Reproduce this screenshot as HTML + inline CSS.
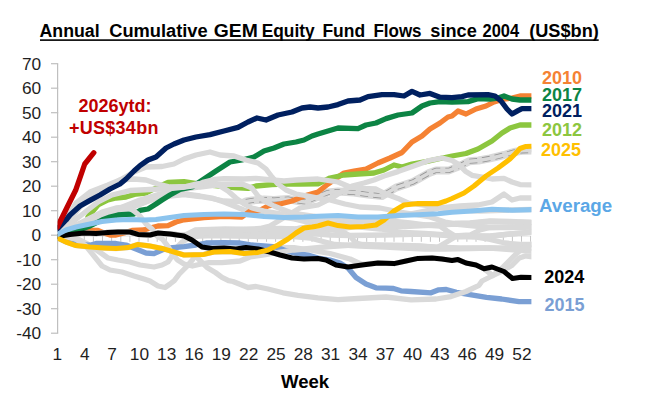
<!DOCTYPE html>
<html><head><meta charset="utf-8"><title>Annual Cumulative GEM Equity Fund Flows</title>
<style>
html,body{margin:0;padding:0;background:#fff;}
body{width:670px;height:406px;overflow:hidden;position:relative;font-family:"Liberation Sans",Arial,sans-serif;}
svg{position:absolute;left:0;top:0;}
text{font-family:"Liberation Sans",Arial,sans-serif;}
.ax{font-size:17.3px;fill:#1f1f1f;}
.b{font-weight:bold;font-size:18px;}
</style></head><body>
<svg width="670" height="406" viewBox="0 0 670 406">
<defs><clipPath id="pc"><rect x="57.6" y="50" width="473.8" height="290"/></clipPath></defs>

<g stroke="#bfbfbf" stroke-width="1.2" fill="none">
<line x1="57.6" y1="63.7" x2="57.6" y2="333.2"/>
<line x1="51" y1="333.2" x2="58.2" y2="333.2"/>
<line x1="51" y1="308.7" x2="58.2" y2="308.7"/>
<line x1="51" y1="284.2" x2="58.2" y2="284.2"/>
<line x1="51" y1="259.7" x2="58.2" y2="259.7"/>
<line x1="51" y1="235.2" x2="58.2" y2="235.2"/>
<line x1="51" y1="210.7" x2="58.2" y2="210.7"/>
<line x1="51" y1="186.2" x2="58.2" y2="186.2"/>
<line x1="51" y1="161.7" x2="58.2" y2="161.7"/>
<line x1="51" y1="137.2" x2="58.2" y2="137.2"/>
<line x1="51" y1="112.7" x2="58.2" y2="112.7"/>
<line x1="51" y1="88.2" x2="58.2" y2="88.2"/>
<line x1="51" y1="63.7" x2="58.2" y2="63.7"/>
</g>
<g clip-path="url(#pc)" fill="none" stroke-linejoin="round" stroke-linecap="round">
<g stroke="#c4c4c4" stroke-width="1" fill="none" stroke-linecap="butt">
<line x1="57.6" y1="236" x2="531.4" y2="236" stroke="#dedede"/>
<line x1="66.1" y1="236" x2="66.1" y2="241.8"/>
<line x1="75.2" y1="236" x2="75.2" y2="241.8"/>
<line x1="84.3" y1="236" x2="84.3" y2="241.8"/>
<line x1="93.4" y1="236" x2="93.4" y2="241.8"/>
<line x1="102.5" y1="236" x2="102.5" y2="241.8"/>
<line x1="111.6" y1="236" x2="111.6" y2="241.8"/>
<line x1="120.8" y1="236" x2="120.8" y2="241.8"/>
<line x1="129.9" y1="236" x2="129.9" y2="241.8"/>
<line x1="139.0" y1="236" x2="139.0" y2="241.8"/>
<line x1="148.1" y1="236" x2="148.1" y2="241.8"/>
<line x1="157.2" y1="236" x2="157.2" y2="241.8"/>
<line x1="166.3" y1="236" x2="166.3" y2="241.8"/>
<line x1="175.4" y1="236" x2="175.4" y2="241.8"/>
<line x1="184.5" y1="236" x2="184.5" y2="241.8"/>
<line x1="193.6" y1="236" x2="193.6" y2="241.8"/>
<line x1="202.7" y1="236" x2="202.7" y2="241.8"/>
<line x1="211.8" y1="236" x2="211.8" y2="241.8"/>
<line x1="220.9" y1="236" x2="220.9" y2="241.8"/>
<line x1="230.1" y1="236" x2="230.1" y2="241.8"/>
<line x1="239.2" y1="236" x2="239.2" y2="241.8"/>
<line x1="248.3" y1="236" x2="248.3" y2="241.8"/>
<line x1="257.4" y1="236" x2="257.4" y2="241.8"/>
<line x1="266.5" y1="236" x2="266.5" y2="241.8"/>
<line x1="275.6" y1="236" x2="275.6" y2="241.8"/>
<line x1="284.7" y1="236" x2="284.7" y2="241.8"/>
<line x1="293.8" y1="236" x2="293.8" y2="241.8"/>
<line x1="302.9" y1="236" x2="302.9" y2="241.8"/>
<line x1="312.0" y1="236" x2="312.0" y2="241.8"/>
<line x1="321.1" y1="236" x2="321.1" y2="241.8"/>
<line x1="330.2" y1="236" x2="330.2" y2="241.8"/>
<line x1="339.3" y1="236" x2="339.3" y2="241.8"/>
<line x1="348.5" y1="236" x2="348.5" y2="241.8"/>
<line x1="357.6" y1="236" x2="357.6" y2="241.8"/>
<line x1="366.7" y1="236" x2="366.7" y2="241.8"/>
<line x1="375.8" y1="236" x2="375.8" y2="241.8"/>
<line x1="384.9" y1="236" x2="384.9" y2="241.8"/>
<line x1="394.0" y1="236" x2="394.0" y2="241.8"/>
<line x1="403.1" y1="236" x2="403.1" y2="241.8"/>
<line x1="412.2" y1="236" x2="412.2" y2="241.8"/>
<line x1="421.3" y1="236" x2="421.3" y2="241.8"/>
<line x1="430.4" y1="236" x2="430.4" y2="241.8"/>
<line x1="439.5" y1="236" x2="439.5" y2="241.8"/>
<line x1="448.6" y1="236" x2="448.6" y2="241.8"/>
<line x1="457.8" y1="236" x2="457.8" y2="241.8"/>
<line x1="466.9" y1="236" x2="466.9" y2="241.8"/>
<line x1="476.0" y1="236" x2="476.0" y2="241.8"/>
<line x1="485.1" y1="236" x2="485.1" y2="241.8"/>
<line x1="494.2" y1="236" x2="494.2" y2="241.8"/>
<line x1="503.3" y1="236" x2="503.3" y2="241.8"/>
<line x1="512.4" y1="236" x2="512.4" y2="241.8"/>
<line x1="521.5" y1="236" x2="521.5" y2="241.8"/>
<line x1="530.6" y1="236" x2="530.6" y2="241.8"/>
</g>
<polyline points="57.4,234 72,228 90,222 110,216 130,208 150,200.5 170,196 184,194.5 200,196.5 212,198.5 224,201 235,201.5 246,201.5" stroke="#d9d9d9" stroke-width="5.3" />
<polyline points="57.4,236.4 70,234.4 84,233 96,233.6 108,232.4 118,232 130,232 138,234.4 150,235 158,233.5 170,234 184,235.5 195,233 230,232 260,232.5 294,232 330,235 350,235.5 385,235 404,234.5 425,234 440,235 455,236 470,235 480,230 490,227.5 510,227 533,227" stroke="#d9d9d9" stroke-width="5.3" />
<polyline points="57.4,236.4 70,234.4 84,233 96,233.6 108,232.4 118,232 130,232 138,234.4 150,235 158,233.5 170,234 184,235.5 195,230 225,229 260,229.5 294,229 320,225 350,222 380,226 404,226.5 425,225.5 440,225 455,224 470,225.5 490,227.5 510,227.5 533,227" stroke="#d9d9d9" stroke-width="5.3" />
<polyline points="57.4,236.4 70,234.4 84,233 96,233.6 108,232.4 118,232 130,232 138,234.4 150,235 158,233.5 170,234 184,235.5 195,234 230,235 260,235 294,234 330,230 360,226 390,221 410,223 425,225 440,226 447,231 455,236 460,236.5 475,237 490,239.5 505,243 520,244.5 533,244.5" stroke="#d9d9d9" stroke-width="5.3" />
<polyline points="57.4,238 66,242 76,245.6 90,247 104,248 116,248.6 128,247.6 138,244.4 150,246 162,248.4 174,252 184,255 204,254.4 214,252 230,251.6 244,253.6 258,252.4 268,250 280,247.5 294,247.7 310,250 330,253.5 350,259 362,264.5 378,263 394,263.6 406,261 418,258.4 432,258 442,259 452,260.5 458,259.6 466,263 476,265 484,268.7 492.7,275.6 502,271 511.4,265.8 519.3,257.9 525.2,255.9 533,256.9" stroke="#d9d9d9" stroke-width="5.3" />
<polyline points="57.4,236.4 70,234.4 84,233 96,233.6 108,232.4 118,232 130,232 138,234.4 150,235 158,233.5 170,234 184,235.5 195,232 220,230 250,229.5 280,228.5 294,229 320,225 350,222 380,219 410,214 440,208 460,206 478,205 492,202 504,194 512,200 520,198 533,198" stroke="#d9d9d9" stroke-width="5.3" />
<polyline points="57.4,236 70,237 78,239 86,243 98,251 108,258 118,260 130,262 140,265 154,267 162,265 168,262 172,256 175,250 178,246 182,242 190,238 200,236 215,235.5 235,236 260,236.5 294,236.5 310,238 325,242 335,244.5 360,246 385,247 404,248 425,249 445,249 470,248.5 490,248 510,249.5 533,251.5" stroke="#d9d9d9" stroke-width="5.3" />
<polyline points="57.4,234 72,228 90,222 110,216 130,208 150,200 170,195.5 184,194 200,196 212,198 224,202 234,206 244,210 254,213 270,215.5 294,219 315,224 330,229 345,233 350,236 356,243 365,245.5 380,246 404,246 425,246.5 445,247.5 460,248 490,248 510,248 533,248" stroke="#d9d9d9" stroke-width="5.3" />
<polyline points="246,201.5 252,200.5 264,199.5 274,200 288,199 298,201 305.6,202 318,196.5 328,192.5 338,191.5 354,192.5 368,194.5 382,196 396,187.6 413,182 429,173 436,170.4 449,170.4 459,166.3 469,161.3 478.5,160.5 490,158.4 504,155 514,152 522,150.8 533,150.5" stroke="#d9d9d9" stroke-width="8.0" />
<polyline points="246,201.5 252,200.5 264,199.5 274,200 288,199 298,201 305.6,202 318,196.5 328,192.5 338,191.5 354,192.5 368,194.5 382,196 396,187.6 413,182 429,173 436,170.4 449,170.4 459,166.3 469,161.3 478.5,160.5 490,158.4 504,155 514,152 522,150.8 533,150.5" stroke="#969696" stroke-width="5.2" stroke-dasharray="8 5" stroke-linecap="butt"/>
<polyline points="246,201.5 252,200.5 264,199.5 274,200 288,199 298,201 305.6,202 318,196.5 328,192.5 338,191.5 354,192.5 368,194.5 382,196 396,187.6 413,182 429,173 436,170.4 449,170.4 459,166.3 469,161.3 478.5,160.5 490,158.4 504,155 514,152 522,150.8 533,150.5" stroke="#d9d9d9" stroke-width="3.6" />
<polyline points="57.4,235 70,233 88,230.5 98,230.5 104,233 110,235 116,235 124,233 132,230.5 144,230 150,228 158,226 168,225.6 176,222 184,219.8 204,217.6 224,216.3 242,217 250,211 260,210.4 268,206 280,204 292,201 304,196 318,192 328,184 344,173 354,171 366,169 378,163 390,158 402,152.5 412,142 422,136 430,129 440,123 448,117 452,116 458,111 466,114 476,109 486,106 494,102 502,99.4 512,98 520,96 533,96" stroke="#f58233" stroke-width="5.3" />
<polyline points="88,217 90,214.5 98,205 108,200 116,198 126,197 136,194 146,193 156,188 168,182.4 184,181.6 200,184 220,186 234,187.6 248,188.4 256,186 272,184.6 284,184 300,184 318,183.8 330,178 344,175 358,174 374,173 384,170 394,165 402,167 412,164 426,161.6 438,159 452,156 466,153.5 478,149 492,141 502,133 510,128 520,125 533,125" stroke="#8cc63f" stroke-width="5.3" />
<polyline points="57.4,234 80,226 100,217 120,208 140,200 160,194 180,190 200,187 220,184.5 242,184 252,188 258,196 266,202 274,206 284,210 292,213 320,217 350,219 380,222 404,224.5 425,225 440,225 455,223.5 470,223.5 490,221.5 510,222 533,222.5" stroke="#d9d9d9" stroke-width="5.3" />
<polyline points="57.4,237.5 66,241.5 76,244.5 90,245.2 96,243.5 116,243.5 126,245 136,249 146,253 154,253.6 162,250 170,248 184,246.6 196,245 206,243 224,242.6 240,243 252,245 264,246 276,247 284,250 294,253 308,255 318,258 330,260 340,263 348,268 356,277.5 366,284 376,287.8 386,288.2 393.5,288.5 401,290.8 411,291.5 431,292.8 438.8,289.8 446.3,289.5 456.4,292.3 471.4,294.8 486.5,297.3 501.6,299 519,301.6 533,301.6" stroke="#7a9fd4" stroke-width="5.3" />
<polyline points="57.4,236 68,237.5 76,239 86,246 94,256 102,266 110,270 122,272 134,276 144,279 150,281 158,286 165,287.5 170,284 174.3,280.7 179.3,274 185.8,267.5 192.4,260 195,255.5 200.6,261 207,267.5 215.4,272.5 222,277.4 228.5,280.7 233,281.5 248,287.5 256,286.5 268,289 283,292.8 298,295.3 318,297.8 338,299.6 358,298.5 386,297 411,299.8 436,299 451,296.6 466,291.5 479,285.3 482,281 492,276 502,268 510,260 516,254 522,249 533,244" stroke="#d9d9d9" stroke-width="5.3" />
<polyline points="57.4,236.4 70,234.4 84,233 96,233.6 108,232.4 118,232 130,232 138,234.4 150,235 158,233.5 170,234 184,235.5 200,233 220,232 240,230 260,228.5 270,226 280,220 290,214 300,208 318,205 332,198 344,190 352,186 364,183 374,180 384,176 398,171.6 413,166.3 429,160.5 442,158 452,160.5 459,164.6 465.4,171.2 472,175.3 482,177 492,179 504,178.4 512,182 520,184.6 533,185" stroke="#d9d9d9" stroke-width="5.3" />
<polyline points="57.4,234 66,232.5 76,231 90,226 102,220 110,217 118,215 126,214.4 134,214 140,210.4 148,209 156,204 162,200 170,195 180,189.5 192,187 204,179 216,171 230,162 242,160 254,157 264,151 274,148 284,144 296,142 304,140 312,136 318,134 328,131 338,128 358,128.6 366,125 376,123 386,118.6 398,115 412,113 422,106 430,103 440,101.6 452,102.2 468,101.6 478,98.6 490,99 498,98 504,96 512,99 520,100 533,100" stroke="#0c8444" stroke-width="5.3" />
<polyline points="57.4,233 68,222 80,207 92,196 106,188 120,180 134,179 146,180 158,184 170,187 184,187 196,184 210,183 220,186 228,191 236,198 244,204 252,208 264,211 276,213 294,216 320,221 350,226 380,229 404,232.5 425,233.5 440,234.5 455,236 470,236 490,236 510,234 533,232" stroke="#d9d9d9" stroke-width="5.3" />
<polyline points="57.4,233 70,224 84,213 98,202 112,195 130,190.5 150,189.5 170,188.5 184,187 196,185.5 204,182 214,179.5 224,178.6 244,179 256,178.4 272,180 284,181 296,180 318,179 338,182 350,187 362,188.4 376,189 386,194 398,198.4 408,203 422,205 437,207 452,210 480,211 510,210 533,209.5" stroke="#d9d9d9" stroke-width="5.3" />
<polyline points="57.4,233 64,224 70,213 76,203 90,192 108,185 120,180 134,172 146,167 162,166.5 174,164 184,159 196,155 210,152 220,155 234,156 246,160 258,163 266,169 272,177 278,184 286,190 296,194 308,196 318,198 330,200 345,204 360,207 380,208 400,212 415,214.5 430,217 445,222 455,223.5 470,223 490,221 510,221.5 533,222.5" stroke="#d9d9d9" stroke-width="5.3" />
<polyline points="57.4,233 66,221 76,206 90,195 108,187.5 120,182" stroke="#d9d9d9" stroke-width="5.3" />
<polyline points="57.4,234 70,228 82,222 90,218 102,212 116,208 128,207 134,211 140,216 146,224 152,229 157,236 162.8,239.6 167.8,246.2 172.7,254.4 177.6,260 184,264 192.4,266 199,264.5 208.8,262.6 222,262.6 240,261 250,257 264,255 280,252 294,250 330,246.5 360,244.5 380,245 404,245.5 420,246 437,247.7 445,243 455,237 470,236 490,236.5 510,234 533,232" stroke="#d9d9d9" stroke-width="5.3" />
<polyline points="57.4,229 66,220 70,215 80,206 90,200.4 100,195 110,189 120,184 126,179 134,171 140,165.6 148,160 156,157 166,148 174,144 184,140 196,137 210,134.6 224,131 238,127.4 248,122 257,118 266,120 278,115 292,112 302,108 310,107 318,108 328,107 338,104.6 348,101 360,100 368,96.6 382,94.6 394,94.6 404,96 412,91.4 420,95 430,93.4 440,97.2 452,97.6 462,96.6 468,95 488,94.6 495,96 501,101 507,109 512,114 518,110.6 522,108.6 533,108.6" stroke="#002060" stroke-width="5.3" />
<polyline points="57.4,236.4 70,234.4 84,233 96,233.6 108,232.4 118,232 130,232 138,234.4 150,235 158,233 170,234 184,236 192,240 202,247 212,248.6 224,248 236,249 246,247.6 258,249 270,252 280,255 292,258 304,259 318,258.5 326,260 336,265 348,267 362,265 378,263 394,263.6 406,261 418,258.4 432,258 442,259 452,260.5 458,259.6 466,263 476,265 484,268.7 492,267 504,271.5 512.5,278.5 521,277.3 533,277.6" stroke="#000000" stroke-width="5.05" />
<polyline points="57.4,238 66,242 76,245.6 90,247 104,248 116,248.6 128,247.6 138,244.4 150,246 162,248.4 174,252 184,255 204,254.4 214,252 230,251.6 244,253.6 258,252.4 268,250 278,245 288,239 296,233 304,228 312,227 318,226 328,223 338,225.6 350,227 364,226.6 376,225 384,220 394,211 404,205 418,203.6 438,203.6 446,201 452,198.5 464,193 474,186 486,176 498,168 510,159 515,154 520,148.5 526,146.4 533,146.2" stroke="#ffc000" stroke-width="5.05" />
<polyline points="57.4,227 66.508,208.5 75.616,190.3 84.724,164 93.832,152.7" stroke="#c00000" stroke-width="5.3" />
<polyline points="57.4,234.6 66,230 76,227 90,224 102,221.6 116,220 130,219.6 144,220 156,219.6 170,217.6 184,215.6 204,214.4 224,214 244,214.4 264,216.4 284,217.6 304,217 318,216.2 338,215.6 358,217 378,217 398,215.5 418,214.7 438,213.7 452,212.2 472,210.9 492,209.2 512,210.2 533,209.6" stroke="#8cc4ee" stroke-width="5.05" />
</g>
<text class="ax" x="41.2" y="339.2" text-anchor="end">-40</text>
<text class="ax" x="41.2" y="314.7" text-anchor="end">-30</text>
<text class="ax" x="41.2" y="290.2" text-anchor="end">-20</text>
<text class="ax" x="41.2" y="265.7" text-anchor="end">-10</text>
<text class="ax" x="41.2" y="241.2" text-anchor="end">0</text>
<text class="ax" x="41.2" y="216.7" text-anchor="end">10</text>
<text class="ax" x="41.2" y="192.2" text-anchor="end">20</text>
<text class="ax" x="41.2" y="167.7" text-anchor="end">30</text>
<text class="ax" x="41.2" y="143.2" text-anchor="end">40</text>
<text class="ax" x="41.2" y="118.7" text-anchor="end">50</text>
<text class="ax" x="41.2" y="94.2" text-anchor="end">60</text>
<text class="ax" x="41.2" y="69.7" text-anchor="end">70</text>
<text class="ax" x="57.4" y="360.4" text-anchor="middle">1</text>
<text class="ax" x="84.7" y="360.4" text-anchor="middle">4</text>
<text class="ax" x="112.0" y="360.4" text-anchor="middle">7</text>
<text class="ax" x="139.4" y="360.4" text-anchor="middle">10</text>
<text class="ax" x="166.7" y="360.4" text-anchor="middle">13</text>
<text class="ax" x="194.0" y="360.4" text-anchor="middle">16</text>
<text class="ax" x="221.3" y="360.4" text-anchor="middle">19</text>
<text class="ax" x="248.7" y="360.4" text-anchor="middle">22</text>
<text class="ax" x="276.0" y="360.4" text-anchor="middle">25</text>
<text class="ax" x="303.3" y="360.4" text-anchor="middle">28</text>
<text class="ax" x="330.6" y="360.4" text-anchor="middle">31</text>
<text class="ax" x="358.0" y="360.4" text-anchor="middle">34</text>
<text class="ax" x="385.3" y="360.4" text-anchor="middle">37</text>
<text class="ax" x="412.6" y="360.4" text-anchor="middle">40</text>
<text class="ax" x="439.9" y="360.4" text-anchor="middle">43</text>
<text class="ax" x="467.3" y="360.4" text-anchor="middle">46</text>
<text class="ax" x="494.6" y="360.4" text-anchor="middle">49</text>
<text class="ax" x="521.9" y="360.4" text-anchor="middle">52</text>
<text class="b" x="281" y="387.8" textLength="48.2" lengthAdjust="spacingAndGlyphs" fill="#000">Week</text>
<text y="36.6" fill="#000" style="font-weight:bold;font-size:18px" xml:space="preserve"><tspan x="39.5" textLength="60.1" lengthAdjust="spacingAndGlyphs">Annual</tspan><tspan>  </tspan><tspan x="109.2" textLength="98.5" lengthAdjust="spacingAndGlyphs">Cumulative</tspan><tspan> </tspan><tspan x="213.8" textLength="44.0" lengthAdjust="spacingAndGlyphs">GEM</tspan><tspan> </tspan><tspan x="261.7" textLength="53.0" lengthAdjust="spacingAndGlyphs">Equity</tspan><tspan> </tspan><tspan x="322.4" textLength="42.7" lengthAdjust="spacingAndGlyphs">Fund</tspan><tspan> </tspan><tspan x="373.4" textLength="48.2" lengthAdjust="spacingAndGlyphs">Flows</tspan><tspan> </tspan><tspan x="430.3" textLength="46.5" lengthAdjust="spacingAndGlyphs">since</tspan><tspan> </tspan><tspan x="482.5" textLength="36.6" lengthAdjust="spacingAndGlyphs">2004</tspan><tspan> </tspan><tspan x="529.2" textLength="69.6" lengthAdjust="spacingAndGlyphs">(US$bn)</tspan></text>
<rect x="40" y="39.3" width="558.7" height="1.6" fill="#000"/>
<text class="b" x="542" y="84" fill="#f58233">2010</text>
<text class="b" x="542" y="100.6" fill="#0c8444">2017</text>
<text class="b" x="542" y="117" fill="#002060">2021</text>
<text class="b" x="542" y="136" fill="#8cc63f">2012</text>
<text class="b" x="541" y="156" fill="#ffc000">2025</text>
<text class="b" x="539" y="211.8" fill="#5ba7e6" textLength="73.2" lengthAdjust="spacingAndGlyphs">Average</text>
<text class="b" x="544.2" y="283.4" fill="#000">2024</text>
<text class="b" x="544.5" y="311" fill="#7a9fd4">2015</text>
<text class="b" x="115" y="112.3" text-anchor="middle" fill="#c00000">2026ytd:</text>
<text class="b" x="69" y="134" textLength="89.4" lengthAdjust="spacing" fill="#c00000">+US$34bn</text>
</svg></body></html>
